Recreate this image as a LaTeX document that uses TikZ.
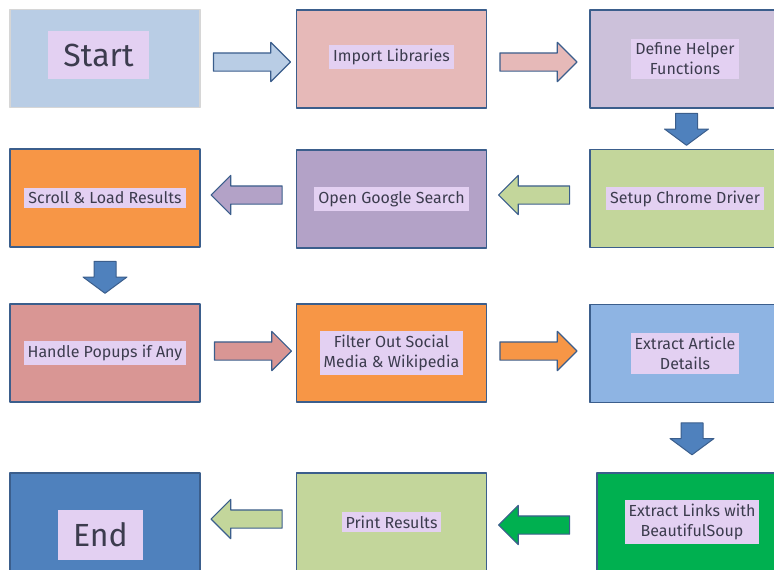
\documentclass[tikz,border=0pt]{standalone}
\usepackage{fontspec}
\setmainfont{Fira Sans}
\usepackage{xcolor}
\usetikzlibrary{shapes.arrows,calc}
\definecolor{edge}{HTML}{3B5E8C}
\definecolor{ink}{HTML}{3C3C4E}
\definecolor{tagfill}{HTML}{E3D0F2}
\definecolor{startfill}{HTML}{B9CDE5}
\definecolor{startedge}{HTML}{D6D6D6}
\definecolor{importfill}{HTML}{E6B9B8}
\definecolor{helperfill}{HTML}{CCC1DA}
\definecolor{olivefill}{HTML}{C3D69B}
\definecolor{searchfill}{HTML}{B3A2C7}
\definecolor{orangefill}{HTML}{F79646}
\definecolor{popupfill}{HTML}{D99694}
\definecolor{articlefill}{HTML}{8EB4E3}
\definecolor{linksfill}{HTML}{00B050}
\definecolor{endfill}{HTML}{4F81BD}

\begin{document}
\begin{tikzpicture}[x=1pt,y=-1pt,line join=round,
  box/.style={draw=edge,line width=1.6pt,minimum width=190pt,minimum height=98pt,inner sep=0pt},
  tag/.style={fill=tagfill,text=ink,inner xsep=4pt,inner ysep=4pt,align=center,font=\fontsize{16}{20}\selectfont},
  bigtag/.style={tag,font=\fontsize{32}{36}\selectfont,inner xsep=15pt,inner ysep=13pt},
  hflow/.style={single arrow,anchor=tail,draw=edge,line width=1.2pt,minimum height=77pt,minimum width=38pt,single arrow head extend=10.5pt,inner xsep=0pt,inner ysep=8.5pt},
  lflow/.style={hflow,minimum height=71pt,shape border rotate=180},
  vflow/.style={single arrow,anchor=tail,draw=edge,fill=endfill,line width=1pt,minimum height=32pt,minimum width=43pt,single arrow head extend=11pt,single arrow tip angle=107,inner xsep=10.5pt,inner ysep=0pt,shape border rotate=270}]
  \useasboundingbox (0,0) rectangle (774,570);
  \node[box,fill=startfill,draw=startedge] (start) at (105,58.5) {};
  \node[box,fill=importfill] (imports) at (391.5,59) {};
  \node[box,fill=helperfill] (helpers) at (685,59) {};
  \node[box,fill=olivefill] (chrome) at (685,198.5) {};
  \node[box,fill=searchfill] (search) at (391.5,199) {};
  \node[box,fill=orangefill] (scroll) at (105,198) {};
  \node[box,fill=popupfill] (popups) at (105,353) {};
  \node[box,fill=orangefill] (filter) at (391.5,353) {};
  \node[box,fill=articlefill] (article) at (685,353.5) {};
  \node[box,fill=linksfill] (links) at (692,522) {};
  \node[box,fill=olivefill] (print) at (391.5,522) {};
  \node[box,fill=endfill] (finish) at (105,522) {};
  \node[bigtag] (startlbl) at ($(start)+(-6.5,-3.5)$) {Start};
  \node[tag] (importslbl) at ($(imports)+(0,-2)$) {Import Libraries};
  \node[tag] (helperslbl) at (helpers) {Define Helper\\Functions};
  \node[tag] (chromelbl) at (chrome) {Setup Chrome Driver};
  \node[tag] (searchlbl) at (search) {Open Google Search};
  \node[tag] (scrolllbl) at (scroll) {Scroll \& Load Results};
  \node[tag] (popupslbl) at (popups) {Handle Popups if Any};
  \node[tag] (filterlbl) at (filter) {Filter Out Social\\Media \& Wikipedia};
  \node[tag] (articlelbl) at (article) {Extract Article\\Details};
  \node[tag] (linkslbl) at (links) {Extract Links with\\BeautifulSoup};
  \node[tag] (printlbl) at (print) {Print Results};
  \node[bigtag] (finishlbl) at ($(finish)+(-4.5,13)$) {End};
  \node[hflow,fill=startfill] (a1) at ($(start.east)+(12,3.5)$) {};
  \node[hflow,fill=importfill] (a2) at ($(imports.east)+(12,3)$) {};
  \node[vflow] (a3) at ($(helpers.south)+(1.5,4)$) {};
  \node[lflow,fill=olivefill] (a4) at ($(chrome.west)+(-19,-3.5)$) {};
  \node[lflow,fill=searchfill] (a5) at ($(search.west)+(-13,-4)$) {};
  \node[vflow] (a6) at ($(scroll.south)+(0,13)$) {};
  \node[hflow,fill=popupfill] (a7) at ($(popups.east)+(13,-2)$) {};
  \node[hflow,fill=orangefill] (a8) at ($(filter.east)+(12,-2)$) {};
  \node[vflow] (a9) at ($(article.south)+(7,19)$) {};
  \node[lflow,fill=linksfill] (a10) at ($(links.west)+(-26,3)$) {};
  \node[lflow,fill=olivefill] (a11) at ($(print.west)+(-13,-3)$) {};
\end{tikzpicture}
\end{document}
